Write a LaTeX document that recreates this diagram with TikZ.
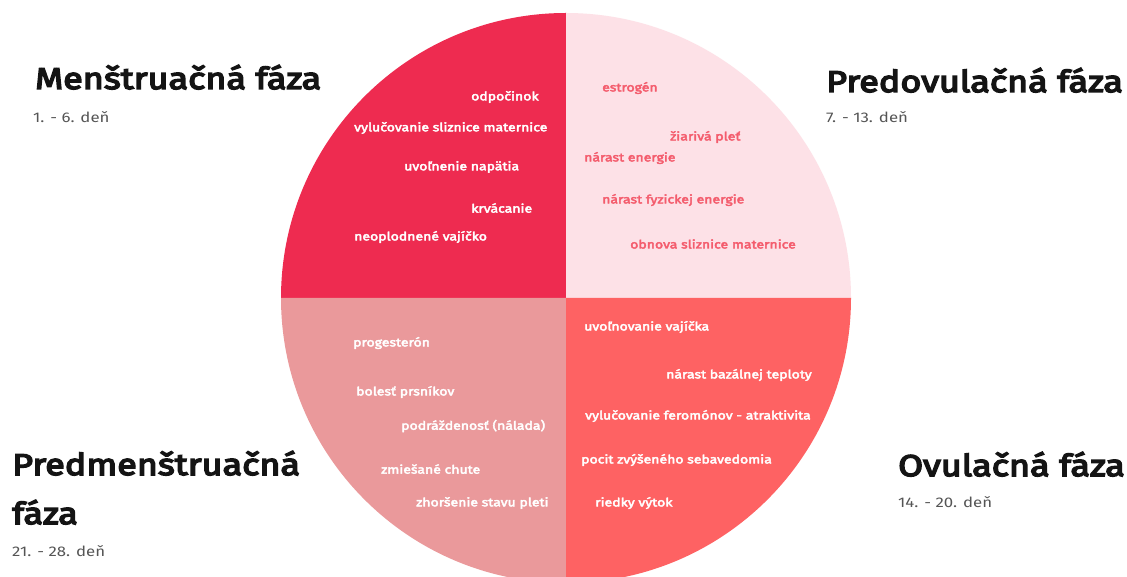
\documentclass[tikz,border=0pt]{standalone}
\usepackage{fontspec}
\setmainfont{Fira Sans}[FakeStretch=1.2]
\newfontfamily\ttlfont{Fira Sans}[FakeStretch=1.2,FakeBold=5]
\newfontfamily\lblfont{Fira Sans}[FakeStretch=1.2,FakeBold=3.5]
\definecolor{cTL}{HTML}{EE2B50}
\definecolor{cTR}{HTML}{FDE1E7}
\definecolor{cBL}{HTML}{EA999B}
\definecolor{cBR}{HTML}{FE6263}
\definecolor{cTRtext}{HTML}{F45C6D}
\definecolor{cday}{HTML}{555555}
\begin{document}
\begin{tikzpicture}[x=1pt,y=1pt,
  lbl/.style={anchor=west,inner sep=0pt,font=\lblfont\fontsize{11.7}{13}\selectfont,text=white},
  lbltr/.style={lbl,text=cTRtext},
  ttl/.style={anchor=base west,inner sep=0pt,font=\ttlfont\fontsize{30}{36}\selectfont,text=black!92},
  day/.style={anchor=base west,inner sep=0pt,font=\fontsize{14}{16}\selectfont,text=cday}]
\useasboundingbox[fill=white] (0,0) rectangle (1127,576);
\coordinate (c) at (566,278);
\fill[cTL] (c) -- ++(0,285) arc[start angle=90,end angle=180,radius=285] -- cycle;
\fill[cTR] (c) -- ++(285,0) arc[start angle=0,end angle=90,radius=285] -- cycle;
\fill[cBL] (c) -- ++(-285,0) arc[start angle=180,end angle=270,radius=285] -- cycle;
\fill[cBR] (c) -- ++(0,-285) arc[start angle=270,end angle=360,radius=285] -- cycle;
% top-left
\node[lbl] (a1) at (471,479) {odpočinok};
\node[lbl] (a2) at (354,448) {vylučovanie sliznice maternice};
\node[lbl] (a3) at (404,409) {uvoľnenie napätia};
\node[lbl] (a4) at (471,368) {krvácanie};
\node[lbl] (a5) at (354,339) {neoplodnené vajíčko};
% top-right
\node[lbltr] (b1) at (602,488) {estrogén};
\node[lbltr] (b2) at (670,439) {žiarivá pleť};
\node[lbltr] (b3) at (584,418) {nárast energie};
\node[lbltr] (b4) at (602,376) {nárast fyzickej energie};
\node[lbltr] (b5) at (630,332) {obnova sliznice maternice};
% bottom-left
\node[lbl] (d1) at (353,233) {progesterón};
\node[lbl] (d2) at (356,184) {bolesť prsníkov};
\node[lbl] (d3) at (401,150) {podráždenosť (nálada)};
\node[lbl] (d4) at (381,107) {zmiešané chute};
\node[lbl] (d5) at (416,73) {zhoršenie stavu pleti};
% bottom-right
\node[lbl] (e1) at (584,249) {uvoľnovanie vajíčka};
\node[lbl] (e2) at (666,201) {nárast bazálnej teploty};
\node[lbl] (e3) at (585,160) {vylučovanie feromónov - atraktivita};
\node[lbl] (e4) at (581,116) {pocit zvýšeného sebavedomia};
\node[lbl] (e5) at (595,73) {riedky výtok};
% titles
\node[ttl] (t1) at (35,487) {Menštruačná fáza};
\node[day] (s1) at (33,453) {1. - 6. deň};
\node[ttl] (t2) at (826,484) {Predovulačná fáza};
\node[day] (s2) at (826,453) {7. - 13. deň};
\node[ttl] (t3) at (12,101) {Predmenštruačná};
\node[ttl] (t3b) at (12,52) {fáza};
\node[day] (s3) at (12,20) {21. - 28. deň};
\node[ttl] (t4) at (898,100) {Ovulačná fáza};
\node[day] (s4) at (898,69) {14. - 20. deň};
\end{tikzpicture}
\end{document}
